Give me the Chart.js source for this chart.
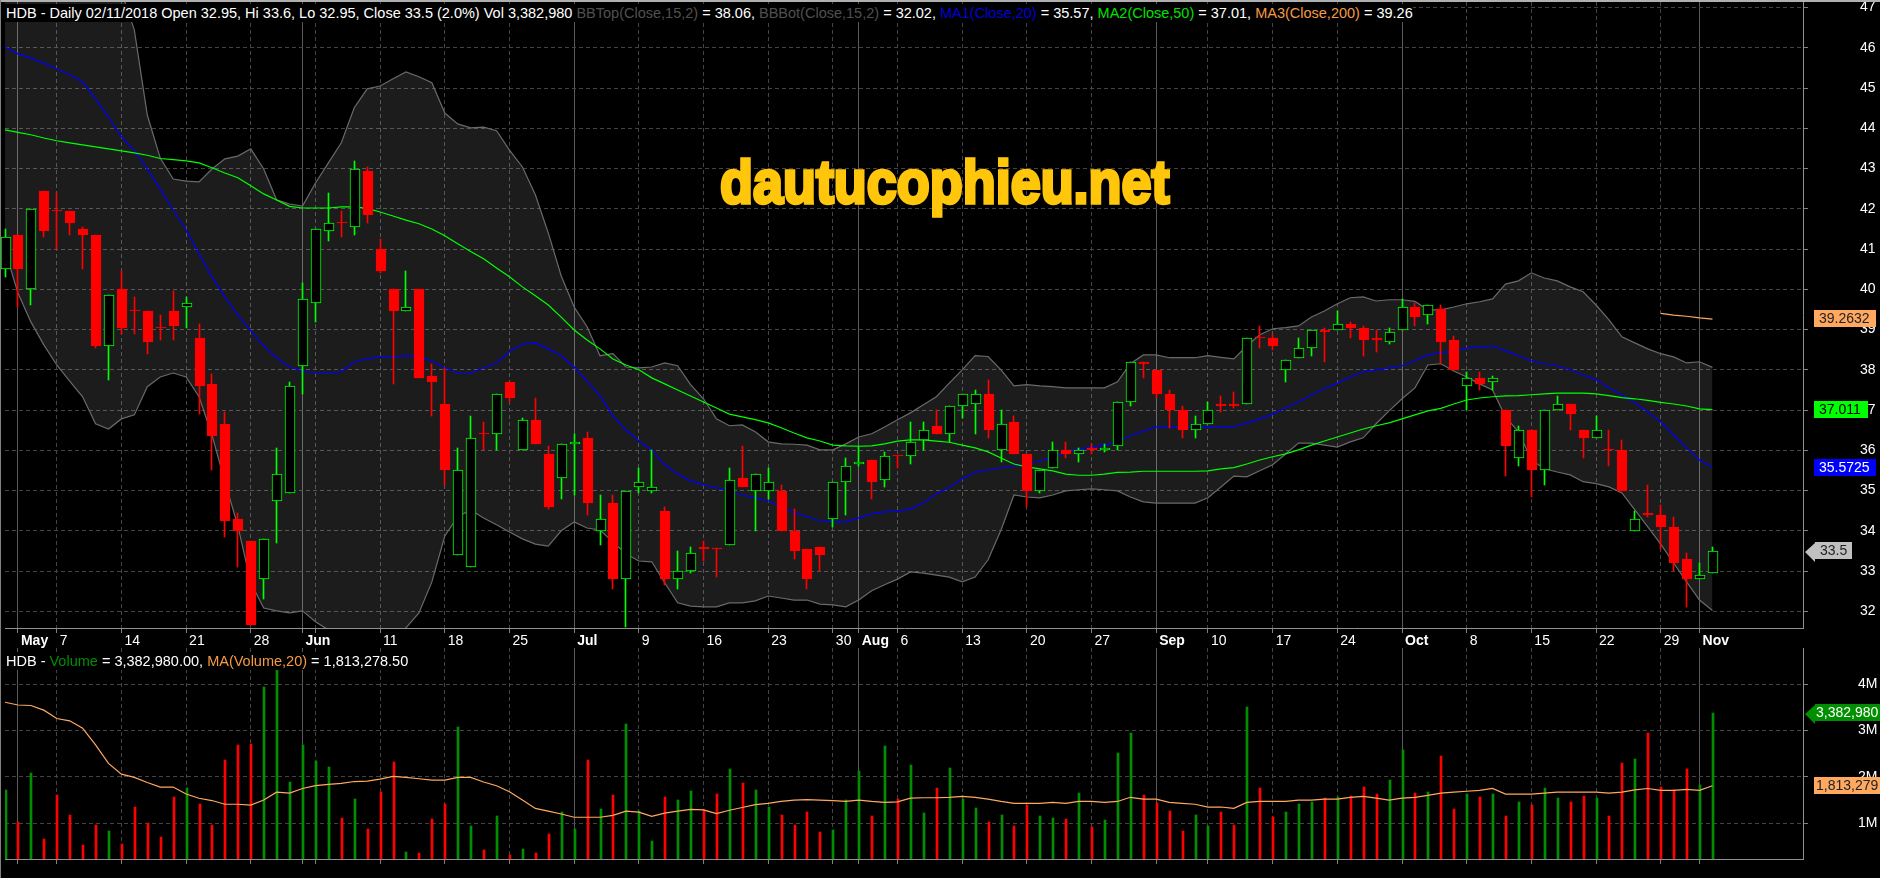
<!DOCTYPE html>
<html lang="en">

<head>
    <meta charset="UTF-8">
    <title>HDB - Daily</title>
    <script src="https://cdn.jsdelivr.net/npm/chart.js"></script>
    <style>
        body {
            margin: 0;
            background: #000;
            font-family: 'Liberation Sans', Arial, sans-serif;
        }

        #wrap {
            position: relative;
            width: 1890px;
            height: 878px;
            overflow: hidden;
            background: #000;
        }

        canvas {
            position: absolute;
            left: 0;
        }

        .head {
            position: absolute;
            left: 5px;
            height: 18px;
            line-height: 18px;
            font-size: 14.5px;
            color: #fff;
            background: #000;
            white-space: pre;
            padding-left: 1px;
        }

        #watermark {
            position: absolute;
            left: 720px;
            top: 144px;
            font-size: 62px;
            line-height: 76px;
            font-weight: bold;
            color: #ffc60b;
            -webkit-text-stroke: 3.5px #ffc60b;
            white-space: pre;
            transform-origin: left top;
            transform: scaleX(0.87);
        }

        #edgeTop { position: absolute; left: 0; top: 0; width: 1880px; height: 2px; background: #b0b0b0; }
        #edgeLeft { position: absolute; left: 0; top: 0; width: 1px; height: 878px; background: #808080; }
        #edgeRight { position: absolute; left: 1880px; top: 0; width: 10px; height: 878px; background: #fff; }
    </style>
</head>

<body>
    <div id="wrap">
        <canvas id="priceChart" width="1890" height="648" style="top:0"></canvas>
        <canvas id="volumeChart" width="1890" height="230" style="top:648px"></canvas>
        <div id="edgeTop"></div>
        <div id="edgeLeft"></div>
        <div id="edgeRight"></div>
        <div class="head" style="top:4px">HDB - Daily 02/11/2018 Open 32.95, Hi 33.6, Lo 32.95, Close 33.5 (2.0%) Vol 3,382,980 <span style="color:#505050">BBTop(Close,15,2)</span> = 38.06, <span style="color:#505050">BBBot(Close,15,2)</span> = 32.02, <span style="color:#0000d8">MA1(Close,20)</span> = 35.57, <span style="color:#00e000">MA2(Close,50)</span> = 37.01, <span style="color:#f59a45">MA3(Close,200)</span> = 39.26</div>
        <div class="head" style="top:652px">HDB - <span style="color:#008f00">Volume</span> = 3,382,980.00, <span style="color:#f59a45">MA(Volume,20)</span> = 1,813,278.50</div>
        <div id="watermark">dautucophieu.net</div>
    </div>

    <script>
        // Candles (27 Apr - 2 Nov 2018)
        const open = [40.5,41.35,40,42.45,41.97,41.95,41.5,41.35,38.6,40,39.47,39.45,39.07,39.45,39.55,38.8,37.65,36.65,34.3,33.75,
            32.8,34.75,34.95,38.1,39.65,41.45,41.67,41.55,42.95,41,40,39.45,40,37.85,37.15,33.4,33.1,36.42,36.4,37.7,
            36,36.75,35.9,35.3,36.15,36.3,34,34.7,32.8,35.1,35,34.5,32.8,33,33.6,33.57,33.65,35.3,35,35,
            35,34,33.55,33.6,34.3,35.2,35.65,35.75,35.25,35.87,35.85,36.25,36.6,36.4,37.1,37.15,37.4,36,36.7,35.9,
            35,35.55,36,35.9,36.05,36,36.1,37.2,38.2,38,37.4,37,36.5,36.65,37.15,37.15,37.15,38.82,38.8,38,
            38.3,38.55,39,39,39.15,39.05,38.8,38.7,39,39.55,39.35,39.5,38.75,37.6,37.8,37.7,37,35.8,36.5,35.5,
            37,37.15,36.5,36.3,36.02,36,34,34.45,34.4,34.1,33.3,32.8,32.95];
        const high = [41.5,41.35,42,42.45,42.4,41.95,41.55,41.35,39.85,40.45,39.8,39.45,39.35,39.95,39.8,39.15,37.9,36.95,34.45,33.75,
            33.8,36.05,37.7,40.15,41.5,42.4,41.95,43.2,43.05,41.25,40,40.45,40,38.15,38.05,36.05,36.85,36.7,37.4,37.7,
            36.8,37.3,36.1,36.15,36.4,36.45,34.9,34.9,35,35.55,36,34.6,33.5,33.6,33.75,33.57,35.55,36.1,35.4,35.55,
            35.15,34.55,33.55,33.6,35.2,35.8,36.1,35.75,35.95,35.87,36.7,36.7,37,37.1,37.4,37.5,37.75,37,36.85,35.9,
            35.5,36.2,36.2,36.05,36.15,36.15,37.2,38.2,38.2,38,37.5,37.1,36.85,37.2,37.35,37.45,38.8,39.1,38.9,38.25,
            38.8,39,39.05,39.45,39.2,39.1,39,39.05,39.75,39.65,39.6,39.6,38.85,37.95,37.95,37.85,37,36.6,36.5,37,
            37.35,37.15,36.5,36.85,36.5,36.25,34.5,35.15,34.65,34.35,33.45,33.2,33.6];
        const low = [40.3,39.55,39.6,41.3,41,41.35,40.5,38.55,37.75,38.9,38.9,38.4,38.75,38.75,39.05,36.9,35.5,33.85,33.1,31.65,
            32.3,33.7,34.95,37.4,39.2,41.2,41.3,41.35,41.65,40.4,37.65,39.45,37.8,36.85,35.15,33.4,33.1,36,36,37.2,
            36,36.15,34.55,34.8,34.9,34.4,33.65,32.55,31.6,34.95,34.95,32.65,32.55,32.95,33.25,32.85,33.65,35.1,34,34.8,
            34,33.3,32.55,33,34.1,34.4,35.6,34.8,35.1,35.55,35.65,36,36.4,36.2,36.8,36.4,36.3,35.7,35.9,34.6,
            34.95,35.55,35.8,35.7,35.9,35.95,36,37.1,37.8,37.3,36.55,36.3,36.3,36.65,36.95,37.05,37.15,38.55,38.5,37.7,
            38.3,38.35,38.2,39,38.8,38.35,38.45,38.65,39,39.1,39.15,38.15,38,37,37.5,37.5,35.35,35.6,34.85,35.15,
            37,36.5,35.8,36.3,35.6,35,34,34.35,33.55,33,32.1,32.8,32.95];
        const close = [41.3,40.5,42,41.45,41.95,41.65,41.35,38.6,39.85,39.05,39.45,38.7,39.05,39.1,39.65,37.6,36.35,34.25,34,31.65,
            33.8,35.4,37.6,39.75,41.5,41.65,41.65,43,41.85,40.45,39.45,39.55,37.8,37.7,35.5,35.5,36.3,36.4,37.4,37.3,
            36.75,36.15,34.6,36.15,36.2,34.7,34.3,32.8,35,35.2,35.1,32.8,33,33.45,33.55,33.55,35.25,35.1,35.4,35.2,
            34,33.5,32.8,33.4,35.2,35.6,35.7,35.2,35.85,35.85,36.2,36.5,36.4,37.1,37.4,37.4,36.5,36.65,35.9,35,
            35.5,36,35.9,36,36,36.05,37.2,38.2,38.15,37.4,37,36.5,36.65,37,37.1,37.1,38.8,38.8,38.6,38.25,
            38.55,39,38.95,39.15,39.05,38.75,38.75,38.95,39.55,39.3,39.6,38.7,38,37.8,37.65,37.8,36.1,36.5,35.5,37,
            37.15,36.9,36.3,36.5,36,35,34.3,34.4,34.1,33.2,32.8,32.9,33.5];

        const bbTop = [50.3,50.2,50,49.8,49.6,49.3,49,48.6,48.1,47.4,46.44,44.33,43.26,42.74,42.69,42.67,42.99,43.24,43.31,43.49,
            42.99,42.22,42.12,42.07,42.64,43.14,43.64,44.51,44.98,45.05,45.23,45.4,45.28,45.13,44.38,44.11,44.01,44.03,43.94,43.46,
            43.04,42.35,41.4,40.33,39.56,39.07,38.35,38.4,38.07,38.05,38.07,38.17,38.1,37.63,37.28,36.78,36.61,36.63,36.46,36.21,
            36.16,36.15,36.13,36.01,36.01,36.16,36.33,36.41,36.58,36.76,36.93,37.13,37.33,37.67,38,38.35,38.33,38,37.6,37.63,
            37.6,37.58,37.55,37.55,37.55,37.55,37.7,38.15,38.37,38.37,38.3,38.3,38.3,38.35,38.31,38.27,38.59,38.87,39.02,39.05,
            39.09,39.31,39.46,39.64,39.79,39.81,39.71,39.74,39.74,39.7,39.49,39.49,39.56,39.64,39.69,39.76,40.13,40.21,40.41,40.28,
            40.21,40.06,39.94,39.61,39.24,38.82,38.67,38.52,38.4,38.32,38.17,38.2,38.06];
        const bbBot = [40.98,39.91,39.19,38.62,38.12,37.72,37.33,36.66,36.53,36.78,36.88,37.58,37.82,37.92,37.82,37.33,36.38,35.22,34.12,32.71,
            32.08,32.01,31.96,32.01,31.74,31.54,31.29,31.09,31.04,31.17,31.34,31.59,31.96,32.73,33.87,34.35,34.52,34.32,34.15,33.97,
            33.8,33.67,33.62,34,34.22,34.07,34.02,33.72,33.43,33.25,33.23,32.71,32.21,32.13,32.11,32.11,32.21,32.21,32.26,32.38,
            32.33,32.28,32.28,32.18,32.16,32.11,32.28,32.51,32.66,32.8,32.98,32.95,32.9,32.85,32.73,32.85,33.28,34.02,34.89,34.84,
            34.82,34.89,34.99,35.02,35.04,35.02,34.99,34.84,34.72,34.69,34.69,34.69,34.69,34.82,35.09,35.36,35.34,35.49,35.64,35.91,
            36.18,36.18,36.13,36.08,36.21,36.31,36.66,36.98,37.28,37.55,38.12,38.15,37.97,37.82,37.65,37.5,36.83,36.46,35.76,35.54,
            35.46,35.39,35.22,35.17,35.09,34.94,34.52,34.1,33.67,33.2,32.73,32.28,32.02];
        const ma1 = [46.02,45.85,45.75,45.62,45.48,45.33,45.15,44.73,44.28,43.79,43.44,42.99,42.49,41.97,41.48,40.88,40.31,39.81,39.36,38.97,
            38.59,38.3,38.07,37.97,37.92,37.92,37.95,38.2,38.27,38.32,38.32,38.35,38.32,38.22,38.05,37.92,37.92,38.05,38.17,38.45,
            38.64,38.67,38.52,38.35,38.07,37.72,37.35,36.85,36.51,36.23,36.01,35.64,35.41,35.24,35.14,35.07,34.99,34.89,34.82,34.74,
            34.59,34.45,34.35,34.25,34.22,34.22,34.32,34.42,34.47,34.49,34.54,34.69,34.92,35.07,35.29,35.46,35.51,35.56,35.61,35.66,
            35.74,35.81,35.94,36.03,36.08,36.13,36.21,36.36,36.48,36.58,36.58,36.58,36.58,36.58,36.58,36.58,36.68,36.78,36.9,37.05,
            37.2,37.38,37.53,37.67,37.82,37.95,38,38.05,38.1,38.22,38.37,38.42,38.47,38.54,38.57,38.59,38.47,38.35,38.22,38.15,
            38.1,38,37.87,37.75,37.55,37.38,37.18,36.95,36.71,36.38,36.06,35.76,35.57];
        const ma2 = [43.96,43.9,43.84,43.76,43.69,43.64,43.59,43.54,43.49,43.44,43.39,43.33,43.25,43.22,43.19,43.14,43.02,42.89,42.77,42.57,
            42.37,42.22,42.06,42.02,42.02,42.02,42.05,42.05,42.01,41.92,41.82,41.72,41.63,41.5,41.33,41.13,40.94,40.76,40.53,40.31,
            40.06,39.84,39.61,39.31,38.99,38.74,38.52,38.27,38.12,38,37.8,37.65,37.5,37.35,37.2,37.05,36.9,36.83,36.76,36.68,
            36.56,36.43,36.31,36.23,36.13,36.11,36.1,36.11,36.16,36.23,36.26,36.26,36.23,36.2,36.13,36.06,35.96,35.81,35.66,35.59,
            35.54,35.49,35.41,35.38,35.38,35.41,35.45,35.46,35.48,35.48,35.48,35.48,35.48,35.49,35.54,35.57,35.66,35.76,35.84,35.91,
            36.01,36.13,36.23,36.33,36.43,36.53,36.61,36.68,36.78,36.88,36.98,37.04,37.15,37.25,37.3,37.33,37.35,37.36,37.38,37.4,
            37.42,37.42,37.42,37.4,37.36,37.31,37.28,37.24,37.19,37.15,37.1,37.03,37.01];
        const ma3 = [...Array(128).fill(null), 39.4, 39.36, 39.33, 39.29, 39.26];

        // Volume in millions of shares
        const volume = [1.72,1.03,2.08,0.66,1.61,1.18,0.53,0.96,0.83,0.55,1.35,1.01,0.71,1.57,1.76,1.42,0.96,2.37,2.69,2.71,
            3.94,4.35,1.89,2.69,2.34,2.21,1.12,1.52,0.88,1.68,2.32,0.38,0.36,1.09,1.42,3.08,0.94,0.42,1.16,0.32,
            0.45,0.36,0.77,1.24,0.88,2.37,1.31,1.61,3.14,1.27,0.62,1.57,1.5,1.7,1.29,1.63,2.17,1.87,1.72,1.35,
            1.18,0.96,1.24,0.81,0.86,1.5,2.13,1.16,2.67,1.52,2.26,1.22,1.76,2.19,1.52,1.33,1.03,1.18,0.94,1.4,
            1.16,1.12,1.09,1.65,0.92,1.07,2.52,2.95,1.61,1.44,1.27,0.83,1.18,0.94,1.24,0.96,3.51,1.76,1.14,1.24,
            1.42,1.46,1.55,1.57,1.59,1.78,1.63,1.93,2.58,1.65,1.68,2.45,1.31,1.63,1.57,1.63,1.16,1.46,1.4,1.76,
            1.55,1.46,1.59,1.55,1.16,2.3,2.39,2.95,1.78,1.72,2.17,1.83,3.38];
        const volumeMa = [3.61,3.55,3.54,3.44,3.26,3.21,3.05,2.69,2.29,2.06,1.99,1.88,1.78,1.78,1.63,1.54,1.49,1.41,1.41,1.39,
            1.5,1.67,1.65,1.75,1.81,1.84,1.86,1.9,1.91,1.95,2.01,1.99,1.96,1.93,1.93,1.99,1.99,1.89,1.81,1.68,
            1.5,1.32,1.26,1.2,1.13,1.13,1.13,1.17,1.26,1.24,1.15,1.22,1.26,1.3,1.29,1.21,1.28,1.34,1.4,1.43,
            1.47,1.5,1.51,1.5,1.49,1.47,1.5,1.47,1.45,1.46,1.54,1.55,1.55,1.56,1.58,1.56,1.52,1.47,1.43,1.43,
            1.43,1.45,1.43,1.47,1.47,1.45,1.47,1.56,1.52,1.52,1.45,1.43,1.41,1.35,1.35,1.32,1.45,1.47,1.47,1.47,
            1.5,1.5,1.52,1.52,1.56,1.58,1.54,1.5,1.54,1.56,1.6,1.65,1.67,1.69,1.71,1.75,1.63,1.63,1.63,1.65,
            1.67,1.67,1.67,1.67,1.65,1.67,1.72,1.75,1.71,1.71,1.73,1.71,1.81];

        // Axis ticks: position in bars and the text shown there
        const tickBars = [1,4,9,14,19,23,24,29,34,39,44,49,54,59,64,66,69,74,79,84,89,93,98,103,108,113,118,123,128,131];
        const tickTexts = ['May','7','14','21','28','Jun','','11','18','25','Jul','9','16','23','30','Aug','6','13','20','27','Sep','10','17','24','Oct','8','15','22','29','Nov'];
        const monthBars = [1,23,44,66,89,108,131];
        const priceTicks = [32,33,34,35,36,37,38,39,40,41,42,43,44,45,46,47];
        const volumeTicks = [1,2,3,4];

        // 133 trading days plus the empty space left of the price axis
        const categories = Array.from({ length: 140 }, (_, i) => i);

        const UP = '#00ff00';
        const DOWN = '#ff0000';
        const GRID = '#444444';
        const MONTH_GRID = '#5a5a5a';

        const isUp = (i) => close[i] >= open[i];

        // The reference snaps its marks to whole pixels
        const snapBars = {
            id: 'snapBars',
            afterDatasetsUpdate(chart) {
                chart.getSortedVisibleDatasetMetas().forEach(meta => {
                    if (meta.type !== 'bar') return;
                    meta.data.forEach(el => {
                        el.x = Math.floor(el.x) + (el.width % 2 ? 0.5 : 1);
                        el.y = Math.round(el.y);
                        el.base = Math.round(el.base);
                        if (el.y === el.base) el.base += 1;
                    });
                });
            }
        };

        // Coloured value boxes on the right axis
        const valueTags = (axisId, tags) => ({
            id: 'valueTags',
            afterDraw(chart) {
                const ctx = chart.ctx;
                const scale = chart.scales[axisId];
                ctx.save();
                ctx.font = '14px "Liberation Sans"';
                ctx.textBaseline = 'middle';
                tags.forEach(tag => {
                    const y = Math.round(scale.getPixelForValue(tag.value));
                    ctx.fillStyle = tag.bg;
                    ctx.fillRect(tag.x, y - 9, tag.w, 17);
                    if (tag.arrow) {
                        ctx.beginPath();
                        ctx.moveTo(tag.x, y - 8);
                        ctx.lineTo(tag.x - 10, y + 1);
                        ctx.lineTo(tag.x, y + 11);
                        ctx.closePath();
                        ctx.fill();
                    }
                    ctx.fillStyle = tag.fg;
                    ctx.fillText(tag.text, tag.x + tag.pad, y);
                });
                ctx.restore();
            }
        });

        const xAxis = (showLabels, height) => ({
            type: 'category',
            offset: false,
            afterBuildTicks(axis) {
                axis.ticks = tickBars.map(value => ({ value }));
            },
            afterFit(axis) {
                axis.height = height;
                axis.paddingLeft = axis.paddingRight = axis.paddingTop = axis.paddingBottom = 0;
            },
            grid: {
                offset: false,
                color: (c) => monthBars.includes(c.tick && c.tick.value) ? MONTH_GRID : GRID,
                tickColor: '#808080',
                tickLength: 5
            },
            border: {
                color: '#909090',
                dash: (c) => c.tick && monthBars.includes(c.tick.value) ? [] : [4, 3]
            },
            ticks: {
                display: showLabels,
                autoSkip: false,
                maxRotation: 0,
                align: 'start',
                labelOffset: 3,
                padding: 0,
                color: '#fff',
                font: (c) => monthBars.includes(c.tick && c.tick.value)
                    ? { family: 'Liberation Sans', size: 14, weight: 'bold' }
                    : { family: 'Liberation Sans', size: 14 },
                callback: (value) => tickTexts[tickBars.indexOf(value)]
            }
        });

        const yAxis = (min, max, list, padding, format) => ({
            position: 'right',
            min: min,
            max: max,
            afterBuildTicks(axis) {
                axis.ticks = list.map(value => ({ value }));
            },
            afterFit(axis) {
                axis.width = 87;
                axis.paddingLeft = axis.paddingRight = axis.paddingTop = axis.paddingBottom = 0;
            },
            grid: { color: GRID, tickColor: '#808080', tickLength: 5 },
            border: { color: '#909090', dash: [4, 3] },
            ticks: {
                color: '#fff',
                crossAlign: 'near',
                padding: padding,
                font: { family: 'Liberation Sans', size: 14 },
                callback: format
            }
        });

        const line = (label, data, color, order) => ({
            type: 'line',
            label: label,
            data: data,
            borderColor: color,
            borderWidth: 1.2,
            pointRadius: 0,
            tension: 0,
            fill: false,
            order: order
        });

        new Chart(document.getElementById('priceChart'), {
            type: 'bar',
            data: {
                labels: categories,
                datasets: [
                    {
                        ...line('BBTop', bbTop, '#6a6a6a', 7),
                        fill: '+1',
                        backgroundColor: 'rgba(255, 255, 255, 0.11)'
                    },
                    line('BBBot', bbBot, '#6a6a6a', 6),
                    line('MA1', ma1, '#0000ff', 5),
                    line('MA2', ma2, '#00ff00', 4),
                    line('MA3', ma3, '#ffa860', 3),
                    {
                        label: 'Range',
                        data: low.map((v, i) => [v, high[i]]),
                        backgroundColor: low.map((_, i) => isUp(i) ? UP : DOWN),
                        barThickness: 1,
                        grouped: false,
                        clip: false,
                        order: 2
                    },
                    {
                        label: 'Body',
                        data: open.map((v, i) => [v, close[i]]),
                        backgroundColor: open.map((_, i) => isUp(i) ? '#000000' : DOWN),
                        borderColor: open.map((_, i) => isUp(i) ? UP : DOWN),
                        borderWidth: 1,
                        borderSkipped: false,
                        barThickness: 10,
                        minBarLength: 1,
                        grouped: false,
                        clip: false,
                        order: 1
                    }
                ]
            },
            options: {
                responsive: false,
                animation: false,
                devicePixelRatio: 1,
                layout: { padding: { left: 5, top: 2 } },
                plugins: { legend: { display: false }, tooltip: { enabled: false } },
                scales: {
                    x: xAxis(true, 20),
                    y: yAxis(31.585, 47.138, priceTicks, 52, (v) => v)
                }
            },
            plugins: [snapBars, valueTags('y', [
                { value: 39.2632, text: '39.2632', bg: '#ffa860', fg: '#222', x: 1814, w: 62, pad: 5 },
                { value: 37.011, text: '37.011', bg: '#00ff00', fg: '#000', x: 1814, w: 54, pad: 5 },
                { value: 35.5725, text: '35.5725', bg: '#0000ff', fg: '#fff', x: 1814, w: 62, pad: 5 },
                { value: 33.5, text: '33.5', bg: '#c0c0c0', fg: '#222', x: 1815, w: 37, pad: 5, arrow: true }
            ])]
        });

        new Chart(document.getElementById('volumeChart'), {
            type: 'bar',
            data: {
                labels: categories,
                datasets: [
                    line('MA(Volume,20)', volumeMa, '#ffa860', 0),
                    {
                        label: 'Volume',
                        data: volume,
                        backgroundColor: volume.map((_, i) => isUp(i) ? '#008f00' : DOWN),
                        barThickness: 2,
                        grouped: false,
                        order: 1
                    }
                ]
            },
            options: {
                responsive: false,
                animation: false,
                devicePixelRatio: 1,
                layout: { padding: { left: 5 } },
                plugins: { legend: { display: false }, tooltip: { enabled: false } },
                scales: {
                    x: xAxis(false, 19),
                    y: yAxis(0.229, 4.78, volumeTicks, 50, (v) => v + 'M')
                }
            },
            plugins: [snapBars, valueTags('y', [
                { value: 3.38298, text: '3,382,980', bg: '#008f00', fg: '#fff', x: 1815, w: 65, pad: 1, arrow: true },
                { value: 1.813279, text: '1,813,279', bg: '#ffa860', fg: '#222', x: 1814, w: 66, pad: 2 }
            ])]
        });
    </script>
</body>

</html>
